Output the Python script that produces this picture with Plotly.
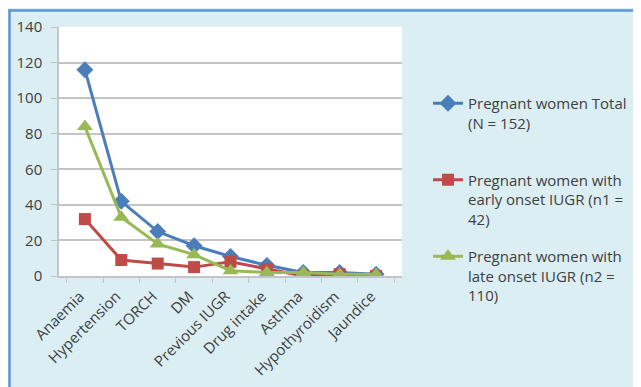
import plotly.graph_objects as go

categories = ["Anaemia", "Hypertension", "TORCH", "DM", "Previous IUGR",
              "Drug intake", "Asthma", "Hypothyroidism", "Jaundice"]
total = [116, 42, 25, 17, 11, 6, 2, 2, 1]
early = [32, 9, 7, 5, 8, 4, 0, 1, 0]
late = [84, 33, 18, 12, 3, 2, 2, 1, 1]

names = ["Pregnant women Total<br>(N = 152)<br> ",
         "Pregnant women with<br>early onset IUGR (n1 =<br>42)",
         "Pregnant women with<br>late onset IUGR (n2 =<br>110)"]
colors = ["#4a7ebb", "#be4b48", "#98b954"]
symbols = ["diamond", "square", "triangle-up"]
sizes = [13, 12, 14]

FONT = "Open Sans, sans-serif"
TXT = "#404040"
GRID = "#c4c4c4"

fig = go.Figure()
for i, (vals, name, col, sym, sz) in enumerate(zip([total, early, late], names, colors, symbols, sizes)):
    fig.add_trace(go.Scatter(
        x=categories, y=vals, name=name, mode="lines+markers",
        legendgroup="g%d" % i,
        line=dict(color=col, width=3),
        marker=dict(symbol=sym, size=sz, color=col),
    ))

# figure coordinates
W, H = 641, 387
L, R, T, B = 51, 247, 19, 119
pw = W - L - R
ph = H - T - B

def px_x(p):
    return (p - L) / pw

def px_y(p):
    return (H - B - p) / ph

fig.update_layout(
    width=W, height=H,
    margin=dict(l=L, r=R, t=T, b=B, pad=0),
    paper_bgcolor="#dbeef4",
    plot_bgcolor="white",
    font=dict(family=FONT, size=15, color=TXT),
    showlegend=True,
    legend=dict(
        x=px_x(420), y=px_y(79), xanchor="left", yanchor="top",
        bgcolor="rgba(0,0,0,0)", valign="top",
        font=dict(family=FONT, size=15, color=TXT),
        itemwidth=30, tracegroupgap=15,
    ),
    xaxis=dict(
        type="category", tickangle=-45, tickson="boundaries",
        ticks="outside", ticklen=5, tickcolor=GRID,
        showline=True, linecolor=GRID, linewidth=1.5,
        showgrid=False, tickfont=dict(size=15, color=TXT),
        ticklabelstandoff=4, ticklabelshift=-5,
        fixedrange=True, automargin=False,
    ),
    yaxis=dict(
        range=[0, 140], dtick=20, ticks="outside", ticklen=6,
        tickcolor=GRID, showline=True, linecolor=GRID, linewidth=1.5,
        gridcolor=GRID, gridwidth=1.5, zeroline=False,
        ticklabelstandoff=6,
        tickfont=dict(size=15, color=TXT), fixedrange=True, automargin=False,
    ),
    shapes=[
        dict(type="line", xref="paper", yref="paper",
             x0=px_x(1.5), x1=px_x(1.5), y0=px_y(H), y1=px_y(1.5),
             line=dict(color="#5b95d6", width=2.5), layer="above"),
        dict(type="line", xref="paper", yref="paper",
             x0=px_x(0.5), x1=px_x(W), y0=px_y(2.5), y1=px_y(2.5),
             line=dict(color="#5b95d6", width=2.5), layer="above"),
    ],
)

fig.write_html("out.html")
